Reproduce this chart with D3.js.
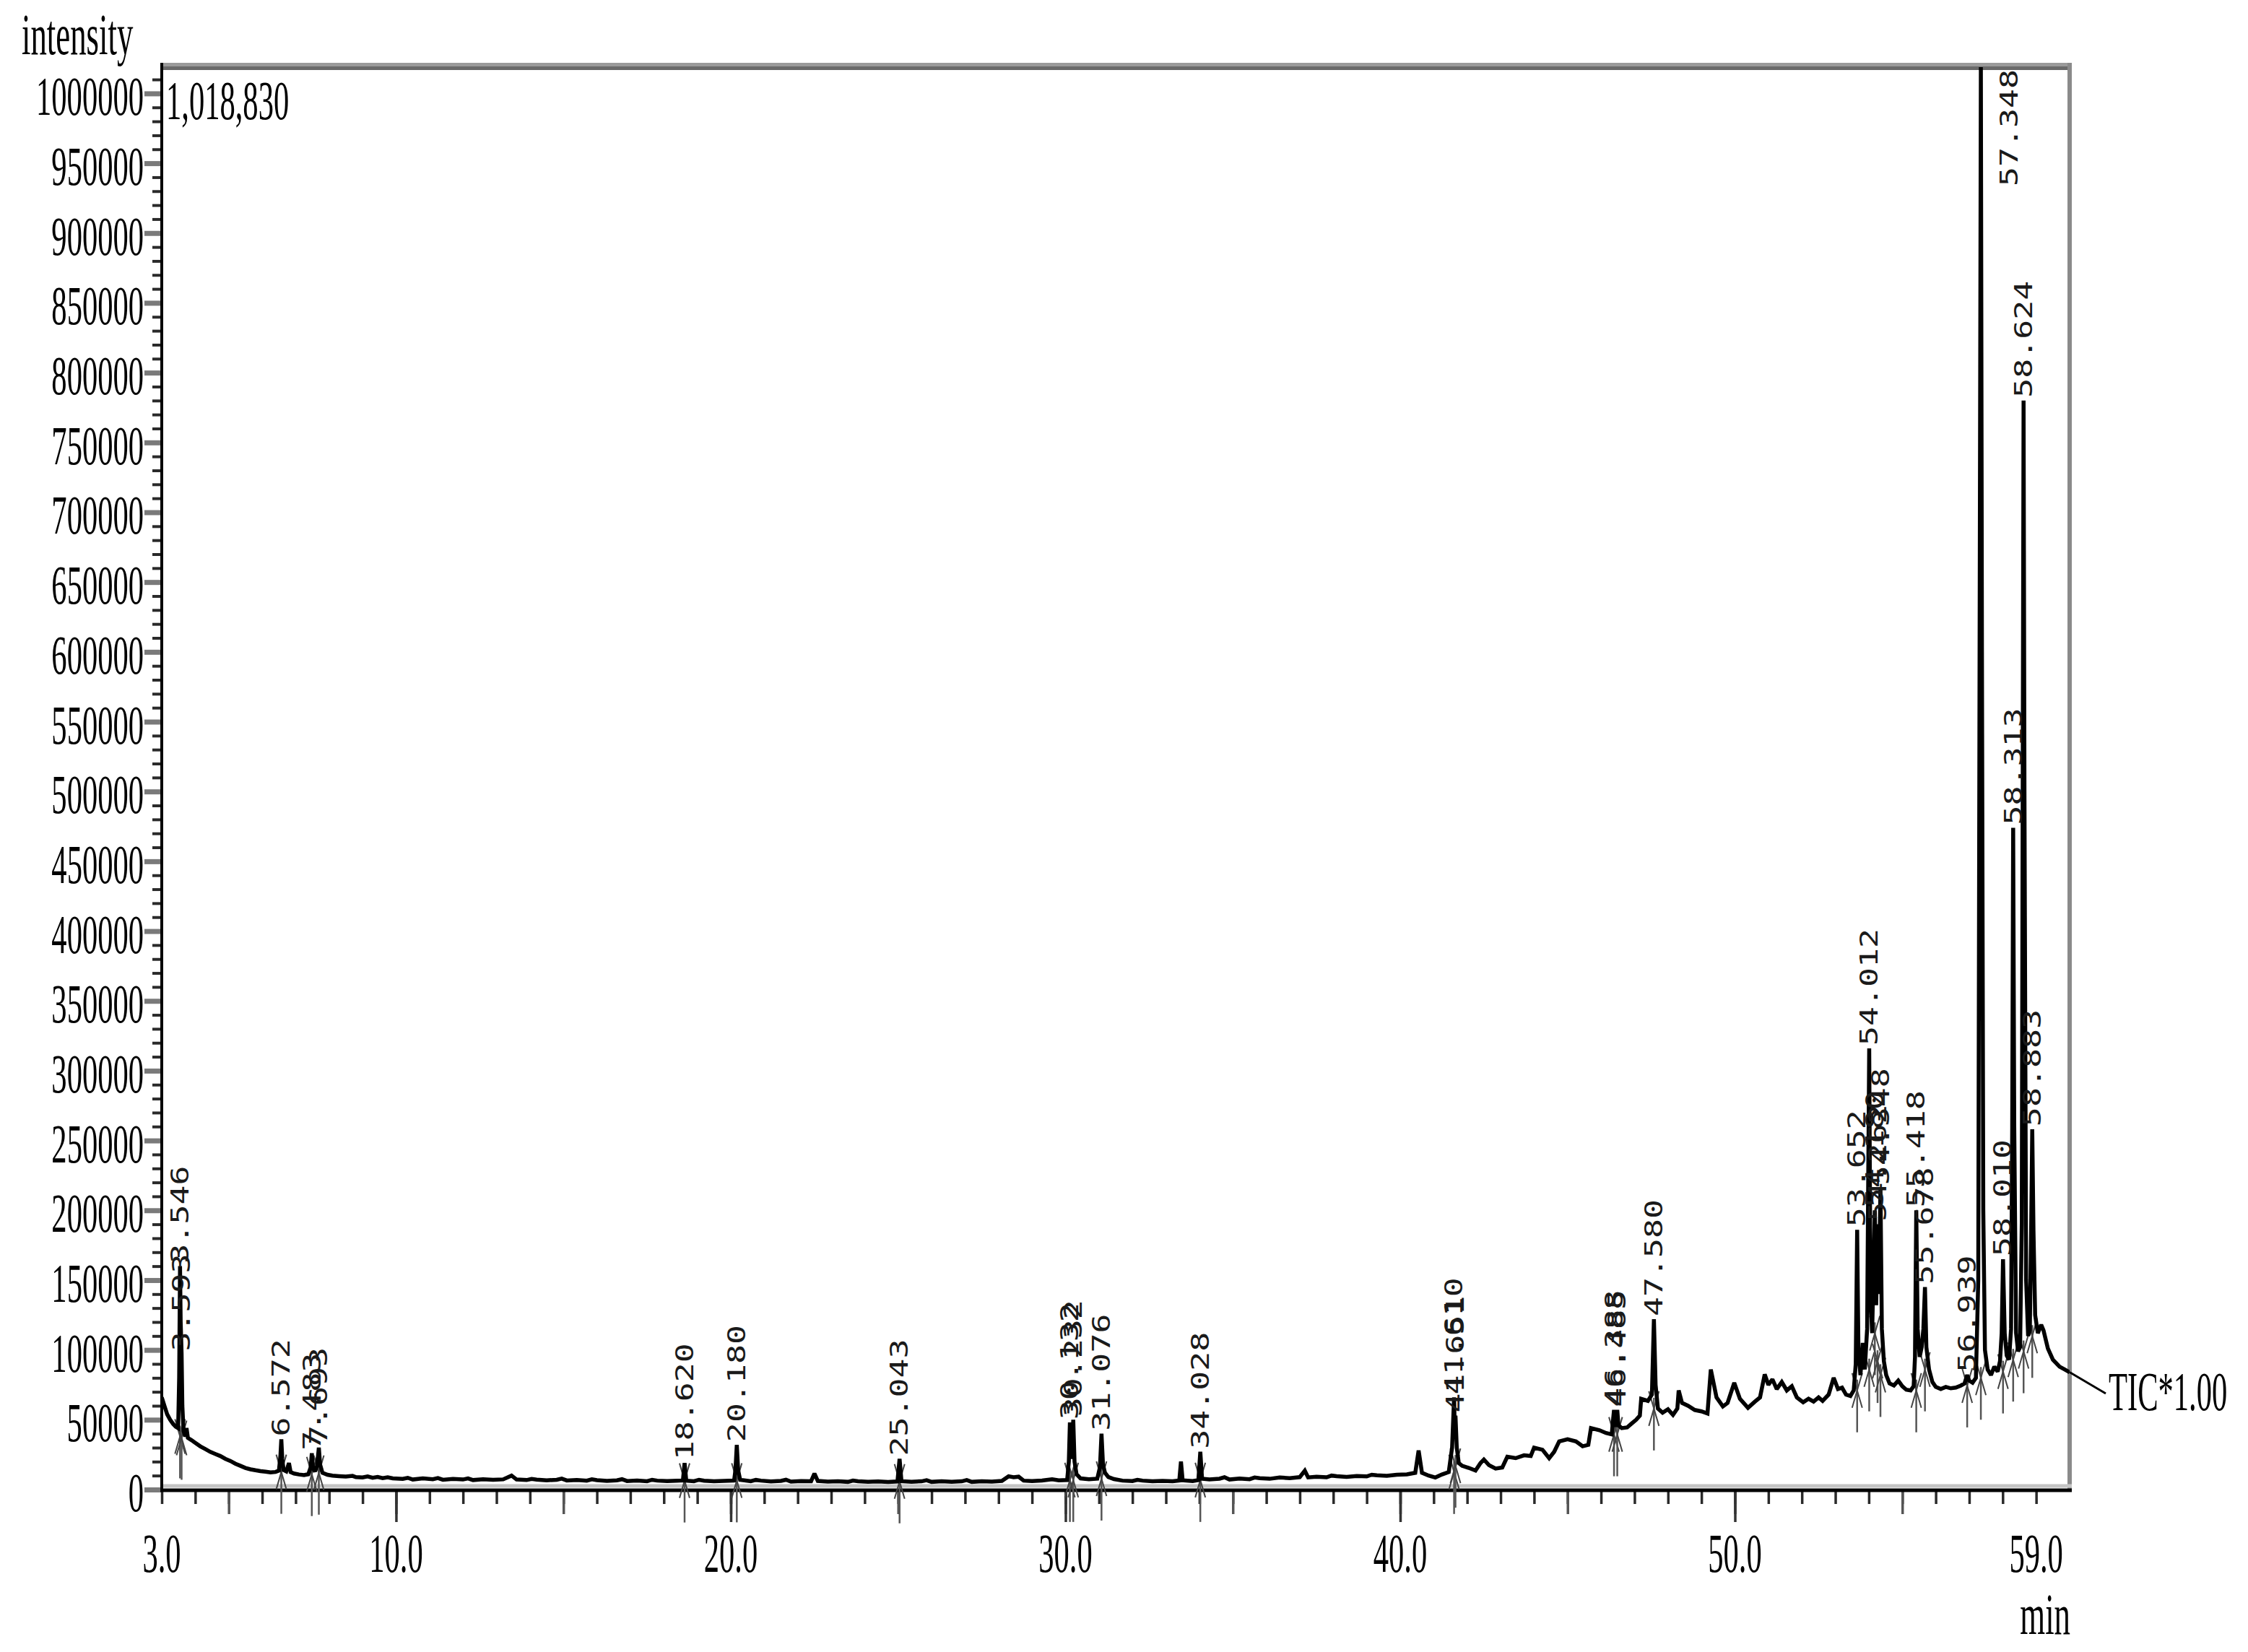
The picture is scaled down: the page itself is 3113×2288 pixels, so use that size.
<!DOCTYPE html>
<html><head><meta charset="utf-8">
<script src="https://cdn.jsdelivr.net/npm/d3@7"></script>
<style>
html,body{margin:0;padding:0;background:#fff;}
svg{display:block;}
</style></head><body>
<svg id="c" width="3113" height="2288"></svg>
<script>
// ---------------- DATA ----------------
const xTickValues = [3, 10, 20, 30, 40, 50, 59];
const xTickLabels = ["3.0", "10.0", "20.0", "30.0", "40.0", "50.0", "59.0"];
const yTickValues = [0,50000,100000,150000,200000,250000,300000,350000,400000,450000,500000,
  550000,600000,650000,700000,750000,800000,850000,900000,950000,1000000];
const yTickLabels = ["0","50000","100000","150000","200000","250000","300000","350000","400000","450000","500000",
  "550000","600000","650000","700000","750000","800000","850000","900000","950000","1000000"];
const yMax = 1018830;
const yMaxLabel = "1,018,830";
const seriesLabel = "TIC*1.00";

// TIC trace [retention time (min), intensity]
const ticEarly = [[3.00,66000],[3.08,60000],[3.16,54000],[3.25,50000],[3.34,47000],[3.42,45000],[3.49,44000],[3.52,80000],[3.546,160000],[3.565,120000],[3.593,97000],[3.615,60000],[3.65,42000],[3.70,38000],[3.74,44000],[3.78,37000],[3.88,35500],[4.00,33500],[4.15,31000],[4.30,29000],[4.45,27000],[4.60,25500],[4.75,24000],[4.90,22000],[5.05,20500],[5.20,18500],[5.35,17000],[5.50,15500],[5.65,14500],[5.80,13800],[5.95,13200],[6.10,12800],[6.25,12300],[6.40,12600],[6.50,13500],[6.545,24000],[6.572,36000],[6.60,22000],[6.64,14000],[6.72,13000],[6.80,19000],[6.85,12500],[6.95,11500],[7.10,10800],[7.25,10400],[7.38,11000],[7.45,16000],[7.483,26000],[7.52,15000],[7.58,13000],[7.64,17000],[7.693,30000],[7.73,18000],[7.80,12000],[7.95,10600],[8.10,10000],[8.30,9600],[8.50,9300],[8.70,9800],[8.80,8900],[9.00,8700],[9.15,9400],[9.30,8400],[9.45,9000],[9.60,8200],[9.75,8800],[9.90,8000]];
const ticMid = [[10.2,7600],[10.35,8400],[10.5,7200],[10.8,8000],[11.1,7400],[11.25,8200],[11.4,7000],[11.7,7600],[12.0,7200],[12.15,8000],[12.3,6800],[12.6,7400],[12.9,7000],[13.2,7300],[13.45,10000],[13.6,7200],[13.9,6800],[14.05,7600],[14.2,7100],[14.5,6600],[14.8,7000],[14.95,7800],[15.1,6500],[15.4,6900],[15.7,6400],[15.85,7300],[16.0,6700],[16.3,6200],[16.6,6600],[16.75,7400],[16.9,6100],[17.2,6500],[17.5,6000],[17.65,7000],[17.8,6400],[18.1,6100],[18.4,6300],[18.57,6500],[18.62,19000],[18.67,6400],[18.9,6000],[19.05,7000],[19.2,6300],[19.5,5900],[19.8,6200],[20.1,6500],[20.14,14000],[20.18,32000],[20.22,14000],[20.28,7000],[20.6,6000],[20.75,6900],[20.9,6400],[21.2,5800],[21.5,6200],[21.65,7000],[21.8,5700],[22.1,6100],[22.4,6000],[22.5,11500],[22.6,6200],[22.9,5700],[23.2,5900],[23.5,5500],[23.65,6400],[23.8,5900],[24.1,5500],[24.4,5800],[24.7,5400],[24.98,5800],[25.043,22000],[25.1,6000],[25.4,5600],[25.7,5900],[25.85,6700],[26.0,5500],[26.3,6000],[26.6,5600],[26.9,5900],[27.05,6800],[27.2,5500],[27.5,5900],[27.8,5700],[28.1,6200],[28.3,9500],[28.45,8800],[28.6,9200],[28.75,6400],[29.0,6100],[29.3,6500],[29.6,7300],[29.8,6600],[30.05,6800],[30.10,20000],[30.132,48000],[30.17,22000],[30.20,30000],[30.232,50000],[30.27,20000],[30.33,11000],[30.45,8000],[30.7,7400],[30.95,7800],[31.03,16000],[31.076,40000],[31.12,18000],[31.18,12000],[31.28,9000],[31.45,7500],[31.7,6400],[32.0,6100],[32.15,7000],[32.3,6400],[32.6,5900],[32.9,6200],[33.2,6000],[33.4,6500],[33.45,20000],[33.5,6600],[33.8,6100],[33.97,6800],[34.028,27000],[34.08,7800],[34.3,7300],[34.6,7800],[34.75,8800],[34.9,7200],[35.2,7900],[35.5,7400],[35.65,8600],[35.8,8100],[36.1,7700],[36.4,8600],[36.7,8200],[37.0,8900],[37.15,13500],[37.25,8700],[37.5,9200],[37.8,8800],[37.95,10000],[38.1,9600],[38.4,9100],[38.7,9700],[39.0,9400],[39.15,10600],[39.3,10200],[39.6,9800],[39.9,10600],[40.2,10900],[40.45,12000],[40.55,28000],[40.65,12000],[40.85,10000],[41.05,8600],[41.25,10800],[41.45,12500],[41.55,30000],[41.610,66000],[41.63,42000],[41.651,53000],[41.69,30000],[41.75,19000],[41.85,17000]];
const ticLate = [[42.05,15500],[42.25,13600],[42.4,19000],[42.5,21500],[42.65,17500],[42.85,15000],[43.05,15800],[43.2,23500],[43.45,22500],[43.7,24500],[43.9,24000],[44.0,30000],[44.25,28500],[44.45,22500],[44.6,27000],[44.75,34500],[45.0,36000],[45.25,34500],[45.45,31000],[45.62,32000],[45.7,44000],[45.95,42500],[46.15,40500],[46.32,39500],[46.36,50000],[46.388,57000],[46.43,45000],[46.46,50000],[46.485,57000],[46.52,46000],[46.62,44000],[46.78,44500],[46.9,47000],[47.05,50000],[47.16,53000],[47.2,65000],[47.4,63500],[47.52,68000],[47.58,122000],[47.63,75000],[47.7,58000],[47.84,55000],[48.0,57500],[48.15,53500],[48.28,58000],[48.32,71000],[48.42,62000],[48.6,60000],[48.8,57000],[49.0,56000],[49.18,54500],[49.28,86000],[49.45,66000],[49.64,59500],[49.78,62000],[49.98,76500],[50.15,65000],[50.39,58500],[50.6,63000],[50.75,66000],[50.89,82500],[51.0,75000],[51.12,79000],[51.25,72000],[51.4,77000],[51.55,71000],[51.7,74000],[51.85,66000],[52.04,62500],[52.2,65000],[52.35,63000],[52.5,66000],[52.62,63500],[52.8,68000],[52.95,80000],[53.08,72000],[53.2,73000],[53.32,68000],[53.45,67000],[53.55,71000],[53.61,90000],[53.652,186000],[53.69,100000],[53.75,82000],[53.82,105000],[53.88,86000],[53.95,115000],[54.012,316000],[54.05,140000],[54.1,112000],[54.18,200000],[54.22,132000],[54.262,190000],[54.3,140000],[54.348,216000],[54.39,115000],[54.45,92000],[54.52,82000],[54.62,76000],[54.75,74500],[54.88,78000],[55.0,74000],[55.12,71500],[55.25,71000],[55.34,74000],[55.38,95000],[55.418,200000],[55.46,115000],[55.52,95000],[55.58,102000],[55.63,115000],[55.678,145000],[55.72,102000],[55.8,86000],[55.9,77000],[56.0,73500],[56.15,72000],[56.3,73500],[56.45,72500],[56.6,73000],[56.75,74500],[56.86,76000],[56.939,82000],[57.0,78000],[57.1,76500],[57.2,80000],[57.27,150000],[57.31,600000],[57.348,1018830],[57.38,600000],[57.42,200000],[57.47,100000],[57.55,86000],[57.65,82000],[57.75,88000],[57.85,84500],[57.92,92000],[57.97,112000],[58.01,165000],[58.06,112000],[58.12,96000],[58.19,93000],[58.25,115000],[58.285,260000],[58.313,474000],[58.345,260000],[58.4,112000],[58.46,99000],[58.52,102000],[58.57,190000],[58.6,520000],[58.624,780000],[58.65,500000],[58.7,150000],[58.76,110000],[58.81,114000],[58.85,185000],[58.883,258000],[58.92,185000],[58.97,125000],[59.05,112000],[59.15,118000],[59.22,114000],[59.35,101000],[59.5,93000],[59.7,88000],[59.85,86000],[60.0,84000]];

// labelled peaks
const peakTimes = [3.546,3.593,6.572,7.483,7.693,18.620,20.180,25.043,30.132,30.232,31.076,34.028,41.610,41.651,46.388,46.485,47.580,53.652,54.012,54.180,54.262,54.348,55.418,55.678,56.939,57.348,58.010,58.313,58.624,58.883];
const peakHeights = [160000,97000,36000,26000,30000,19000,32000,22000,48000,50000,40000,27000,66000,53000,57000,57000,122000,186000,316000,200000,190000,216000,200000,145000,82000,1018830,165000,474000,780000,258000];
const peakLabels = ["3.546","3.593","6.572","7.483","7.693","18.620","20.180","25.043","30.132","30.232","31.076","34.028","41.610","41.651","46.388","46.485","47.580","53.652","54.012","54.180","54.262","54.348","55.418","55.678","56.939","57.348","58.010","58.313","58.624","58.883"];

// ---------------- DRAW ----------------
const L = 224, R = 2866, T = 93, B = 2063;
const svg = d3.select("#c");
const x = d3.scaleLinear().domain([3, 60]).range([L, R]);
const y = d3.scaleLinear().domain([0, yMax]).range([B, T]);
const serif = "'Liberation Serif','Times New Roman',serif";

function serifText(sx, sy, str, anchor, size) {
  svg.append("text")
    .attr("transform", `translate(${sx},${sy}) scale(0.56,1)`)
    .attr("text-anchor", anchor)
    .style("font-family", serif)
    .style("font-size", (size || 76) + "px")
    .attr("fill", "#000")
    .text(str);
}

// frame: top & right grey borders
svg.append("rect").attr("x", L).attr("y", 87).attr("width", R - L + 3).attr("height", 5).attr("fill", "#9a9a9a");
svg.append("rect").attr("x", L).attr("y", 92).attr("width", R - L + 3).attr("height", 5).attr("fill", "#6a6a6a");
svg.append("line").attr("x1", R).attr("x2", R).attr("y1", 87).attr("y2", B).attr("stroke", "#8a8a8a").attr("stroke-width", 6);

// Y ticks
const yMinor = d3.axisLeft(y).tickValues(d3.range(0, yMax, 10000)).tickSize(13).tickFormat("");
const gyMinor = svg.append("g").attr("transform", `translate(${L},0)`).call(yMinor);
gyMinor.select(".domain").remove();
gyMinor.selectAll("line").attr("stroke", "#2a2a2a").attr("stroke-width", 4);
const yMajor = d3.axisLeft(y).tickValues(yTickValues).tickSize(24).tickFormat("");
const gyMajor = svg.append("g").attr("transform", `translate(${L},0)`).call(yMajor);
gyMajor.select(".domain").remove();
gyMajor.selectAll("line").attr("stroke", "#7a7a7a").attr("stroke-width", 7);
yTickValues.forEach((v, i) => serifText(199, y(v) + 30, yTickLabels[i], "end"));

// X ticks
const xMinor = d3.axisBottom(x).tickValues(d3.range(3, 60, 1)).tickSize(20).tickFormat("");
const xMid = d3.axisBottom(x).tickValues(d3.range(5, 60, 5)).tickSize(34).tickFormat("");
const xMaj = d3.axisBottom(x).tickValues(d3.range(10, 60, 10)).tickSize(45).tickFormat("");
[[xMinor, "#2a2a2a"], [xMid, "#555"], [xMaj, "#333"]].forEach(([ax, col]) => {
  const g = svg.append("g").attr("transform", `translate(0,${B})`).call(ax);
  g.select(".domain").remove();
  g.selectAll("line").attr("stroke", col).attr("stroke-width", 3.5);
});
xTickValues.forEach((v, i) => serifText(x(v), 2177, xTickLabels[i], "middle"));

// axis lines
svg.append("line").attr("x1", L).attr("x2", R + 3).attr("y1", 2058).attr("y2", 2058).attr("stroke", "#c4c4c4").attr("stroke-width", 5);
svg.append("line").attr("x1", L - 2).attr("x2", R + 3).attr("y1", B + 1).attr("y2", B + 1).attr("stroke", "#000").attr("stroke-width", 5);
svg.append("line").attr("x1", L).attr("x2", L).attr("y1", 87).attr("y2", B + 3).attr("stroke", "#000").attr("stroke-width", 4);

// axis titles and annotations
serifText(30, 75, "intensity", "start", 80);
serifText(2867, 2263, "min", "end", 80);
serifText(230, 165, yMaxLabel, "start");

// trace
const trace = ticEarly.concat(ticMid, ticLate);
svg.append("defs").append("clipPath").attr("id", "plotclip")
  .append("rect").attr("x", L).attr("y", T).attr("width", R - L).attr("height", B - T + 2);

// peak markers (below/around baseline)
const markG = svg.append("g");
peakTimes.forEach((t, i) => {
  const win = trace.filter(d => Math.abs(d[0] - t) <= 0.2);
  const baseI = d3.min(win, d => d[1]);
  const px = x(t), by = y(baseI);
  markG.append("line").attr("x1", px).attr("x2", px).attr("y1", by - 15).attr("y2", by + 58)
    .attr("stroke", "#555").attr("stroke-width", 2.5);
  markG.append("line").attr("x1", px - 7).attr("x2", px + 7).attr("y1", by - 24).attr("y2", by + 24)
    .attr("stroke", "#444").attr("stroke-width", 2);
  markG.append("line").attr("x1", px + 7).attr("x2", px - 7).attr("y1", by - 24).attr("y2", by + 24)
    .attr("stroke", "#444").attr("stroke-width", 2);
});

const line = d3.line().x(d => x(d[0])).y(d => y(Math.min(d[1], yMax)));
svg.append("path").datum(trace).attr("d", line)
  .attr("fill", "none").attr("stroke", "#000").attr("stroke-width", 5.5)
  .attr("stroke-linejoin", "miter").attr("stroke-miterlimit", 2).attr("clip-path", "url(#plotclip)");

// series label leader
const last = trace[trace.length - 1];
svg.append("line").attr("x1", x(last[0])).attr("y1", y(last[1])).attr("x2", 2916).attr("y2", 1930)
  .attr("stroke", "#000").attr("stroke-width", 3);
serifText(2920, 1953, seriesLabel, "start");

// peak labels
const labG = svg.append("g");
peakTimes.forEach((t, i) => {
  const px = x(t);
  let tr, anchor;
  if (peakHeights[i] >= yMax) {
    tr = `translate(${px + 39},${T + 3}) rotate(-90) scale(1.36,1)`;
    anchor = "end";
  } else {
    tr = `translate(${px},${y(peakHeights[i]) - 4}) rotate(-90) scale(1.36,1)`;
    anchor = "start";
  }
  labG.append("text").attr("transform", tr)
    .attr("text-anchor", anchor)
    .attr("dominant-baseline", "central")
    .style("font-family", "'DejaVu Sans Mono',monospace")
    .style("font-size", "33px")
    .attr("fill", "#1a1a1a")
    .text(peakLabels[i]);
});
</script>
</body></html>
